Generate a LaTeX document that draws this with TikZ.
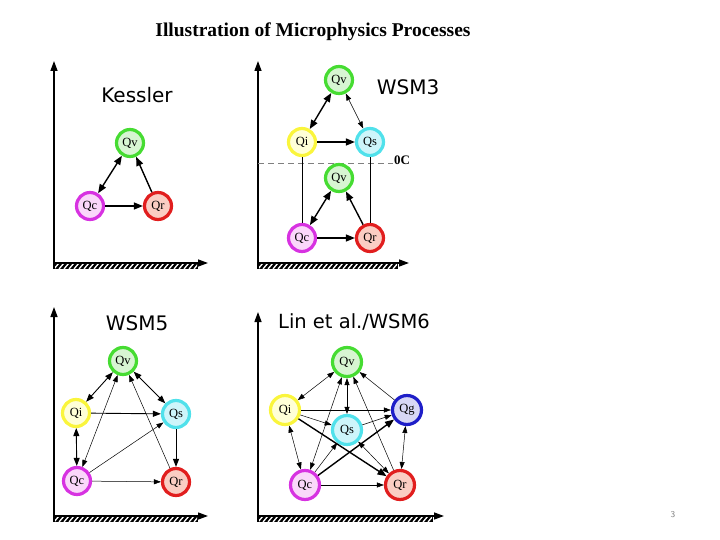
\documentclass[tikz,border=0pt]{standalone}
\usepackage{fontspec}
\setmainfont{Liberation Serif}
\newfontfamily\labfont{DejaVu Sans}
\usetikzlibrary{arrows.meta}
\definecolor{gB}{RGB}{70,220,50}\definecolor{gF}{RGB}{215,245,210}
\definecolor{yB}{RGB}{250,245,60}\definecolor{yF}{RGB}{255,255,215}
\definecolor{cB}{RGB}{80,225,235}\definecolor{cF}{RGB}{205,245,250}
\definecolor{mB}{RGB}{215,50,225}\definecolor{mF}{RGB}{250,215,250}
\definecolor{rB}{RGB}{225,30,30}\definecolor{rF}{RGB}{250,205,195}
\definecolor{bB}{RGB}{30,30,200}\definecolor{bF}{RGB}{215,215,245}
\tikzset{
  qn/.style={circle, line width=3.2pt, minimum size=27pt, inner sep=0pt, font=\fontsize{12.5}{12.5}\selectfont},
  qv/.style={qn, draw=gB, fill=gF},
  qi/.style={qn, draw=yB, fill=yF},
  qs/.style={qn, draw=cB, fill=cF},
  qc/.style={qn, draw=mB, fill=mF},
  qr/.style={qn, draw=rB, fill=rF},
  qg/.style={qn, draw=bB, fill=bF},
  big/.style={minimum size=29pt},
  thk/.style={line width=1.4pt, -{Triangle[length=9pt,width=7pt]}},
  thkd/.style={line width=1.4pt, {Triangle[length=9pt,width=7pt]}-{Triangle[length=9pt,width=7pt]}},
  med/.style={line width=0.9pt, -{Triangle[length=8pt,width=6pt]}},
  medd/.style={line width=0.9pt, {Triangle[length=8pt,width=6pt]}-{Triangle[length=8pt,width=6pt]}},
  thn/.style={line width=0.5pt, -{Triangle[length=7pt,width=5pt]}},
  thnd/.style={line width=0.5pt, {Triangle[length=7pt,width=5pt]}-{Triangle[length=7pt,width=5pt]}},
  axisline/.style={line width=1.3pt, -{Triangle[length=10pt,width=7pt]}},
  plabel/.style={font=\labfont\fontsize{20}{20}\selectfont},
}
\newcommand\groundbar[3]{%
  \fill (#1,#3) rectangle (#2,#3+6);
  \begin{scope}
    \clip (#1+1,#3+1) rectangle (#2-1,#3+5);
    \foreach \k in {0,...,40} {\draw[white,line width=1.3pt] ({#1+\k*5},#3+6) -- ({#1+\k*5+5},#3);}
  \end{scope}}
\begin{document}
\begin{tikzpicture}[x=1pt,y=-1pt]
\useasboundingbox (0,0) rectangle (720,540);
\node[font=\bfseries\fontsize{19.5}{19.5}\selectfont] (title) at (313,32) {Illustration of Microphysics Processes};
\node[font=\sffamily\fontsize{9}{9}\selectfont, text=gray] (pg) at (673,515) {3};

% ---------- Kessler ----------
\draw[axisline] (54,269) -- (54,61);
\groundbar{54}{198}{263}
\draw[axisline] (54,263) -- (208,263);
\node[plabel] (lk) at (137,95) {Kessler};
\node[qv] (a1) at (130,143) {Qv};
\node[qc] (a2) at (90,206) {Qc};
\node[qr] (a3) at (158,206) {Qr};
\draw[thkd] (a2) -- (a1);
\draw[thk] (a3) -- (a1);
\draw[thk] (a2) -- (a3);

% ---------- WSM3 ----------
\draw[axisline] (258,269) -- (258,61);
\groundbar{258}{398}{263}
\draw[axisline] (258,263) -- (409,263);
\node[plabel] (lw3) at (408,87) {WSM3};
\coordinate (d0) at (258,163);
\coordinate (d1) at (393,163);
\draw[gray, dashed, dash pattern=on 6pt off 4pt, line width=0.5pt] (d0) -- (d1);
\node[font=\bfseries\fontsize{13}{13}\selectfont, anchor=south west, inner sep=0pt] (zc) at (394,165) {0C};
\node[qv] (b1) at (339,80) {Qv};
\node[qi] (b2) at (302,142) {Qi};
\node[qs] (b3) at (370,142) {Qs};
\node[qv] (b4) at (339,178) {Qv};
\node[qc] (b5) at (302,238) {Qc};
\node[qr] (b6) at (370,238) {Qr};
\draw[line width=0.5pt] (b2) -- (b5);
\draw[line width=0.5pt] (b3) -- (b6);
\draw[thkd] (b1) -- (b2);
\draw[thnd] (b1) -- (b3);
\draw[thk] (b2) -- (b3);
\draw[thkd] (b4) -- (b5);
\draw[thk] (b6) -- (b4);
\draw[thk] (b5) -- (b6);

% ---------- WSM5 ----------
\draw[axisline] (54,522) -- (54,307);
\groundbar{54}{198}{516}
\draw[axisline] (54,516) -- (208,516);
\node[plabel] (lw5) at (137,323) {WSM5};
\node[qv] (c1) at (123,361) {Qv};
\node[qi] (c2) at (76,413) {Qi};
\node[qs] (c3) at (176,414) {Qs};
\node[qc] (c4) at (77,481) {Qc};
\node[qr] (c5) at (176,482) {Qr};
\draw[medd] (c1) -- (c2);
\draw[medd] (c1) -- (c3);
\draw[med] (c2) -- (c3);
\draw[medd] (c2) -- (c4);
\draw[thnd] (c4) -- (c1);
\draw[thn] (c4) -- (c3);
\draw[thn] (c5) -- (c1);
\draw[med] (c3) -- (c5);
\draw[thn] (c4) -- (c5);

% ---------- Lin / WSM6 ----------
\draw[axisline] (258,522) -- (258,312);
\groundbar{258}{433}{516}
\draw[axisline] (258,516) -- (444,516);
\node[plabel, font=\labfont\fontsize{19.5}{19.5}\selectfont] (lw6) at (354,322) {Lin et al./WSM6};
\node[qv,big] (e1) at (347,362) {Qv};
\node[qi,big] (e2) at (285,410) {Qi};
\node[qg,big] (e3) at (407,410) {Qg};
\node[qs,big] (e4) at (347,430) {Qs};
\node[qc,big] (e5) at (305,485) {Qc};
\node[qr,big] (e6) at (400,485) {Qr};
\draw[thnd] (e1) -- (e2);
\draw[thn] (e3) -- (e1);
\draw[thnd] (e1) -- (e4);
\draw[thn] (e2) -- (e3);
\draw[thn] (e2) -- (e4);
\draw[thk] (e2) -- (e6);
\draw[thnd] (e2) -- (e5);
\draw[thnd] (e5) -- (e1);
\draw[thn] (e5) -- (e4);
\draw[thk] (e5) -- (e3);
\draw[thn] (e5) -- (e6);
\draw[thn] (e4) -- (e3);
\draw[thn] (e6) -- (e1);
\draw[thnd] (e4) -- (e6);
\draw[thnd] (e3) -- (e6);
\end{tikzpicture}
\end{document}
